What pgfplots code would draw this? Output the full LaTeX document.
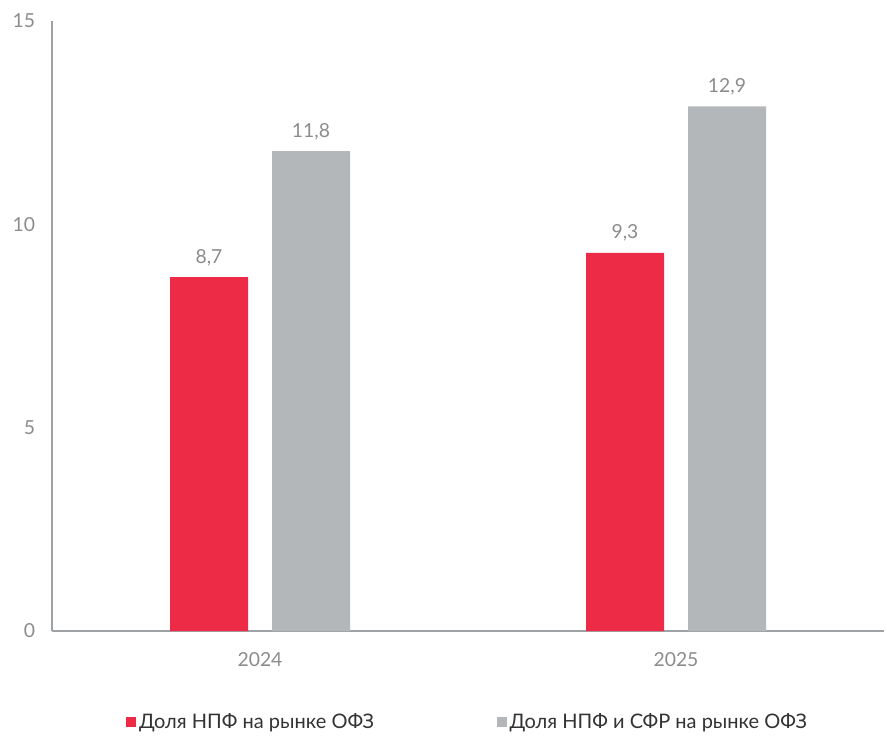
\documentclass[border=0pt]{standalone}
\usepackage{pgfplots}
\pgfplotsset{compat=1.18}
\usepackage{fontspec}
\setmainfont{Lato}
\definecolor{cred}{HTML}{EE2B47}
\definecolor{cgray}{HTML}{B3B7BA}
\definecolor{ctick}{HTML}{8C8C8C}
\definecolor{caxis}{HTML}{9EA2A5}
\definecolor{ctext}{HTML}{333333}
\begin{document}
\begin{tikzpicture}[x=0.75pt,y=0.75pt]
\path[use as bounding box] (-52,-105) rectangle (835,631);
\begin{axis}[
  at={(0,0)}, anchor=south west,
  scale only axis, width=624pt, height=457.5pt,
  xmin=-0.5, xmax=1.5, ymin=0, ymax=15,
  axis lines=left, axis line style={-, draw=caxis, line width=0.9pt},
  ytick={0,5,10,15},
  y tick style={draw=none},
  xtick={0,1}, xticklabels={2024,2025},
  x tick style={draw=none},
  extra x ticks={-0.5,0.5,1.5}, extra x tick labels={},
  extra x tick style={tick style={draw=caxis, line width=0.9pt}, major tick length=6pt, tick align=outside},
  tick label style={font=\fontsize{14.5}{16}\selectfont, text=ctick},
  yticklabel style={xshift=-7pt},
  xticklabel style={yshift=-8pt},
  /pgf/number format/assume math mode=true,
  ybar, bar width=58.5pt,
  nodes near coords,
  nodes near coords style={font=\fontsize{14.5}{16}\selectfont, text=ctick, anchor=south, yshift=5pt,
    /pgf/number format/.cd, use comma, fixed, fixed zerofill, precision=1, assume math mode=true},
  legend style={draw=none, at={(0.5,-0.149)}, anchor=center, font=\fontsize{15}{17}\selectfont, text=ctext,
    legend columns=2, /tikz/every even column/.append style={column sep=90pt},
    inner sep=0pt, legend cell align=left},
  legend image code/.code={\fill[#1] (0pt,-3.75pt) rectangle (7.5pt,3.75pt);},
]
\addplot[fill=cred, draw=none, bar shift=-38.25pt] coordinates {(0,8.7) (1,9.3)};
\addplot[fill=cgray, draw=none, bar shift=38.25pt] coordinates {(0,11.8) (1,12.9)};
\legend{Доля НПФ на рынке ОФЗ, Доля НПФ и СФР на рынке ОФЗ}
\end{axis}
\end{tikzpicture}
\end{document}
